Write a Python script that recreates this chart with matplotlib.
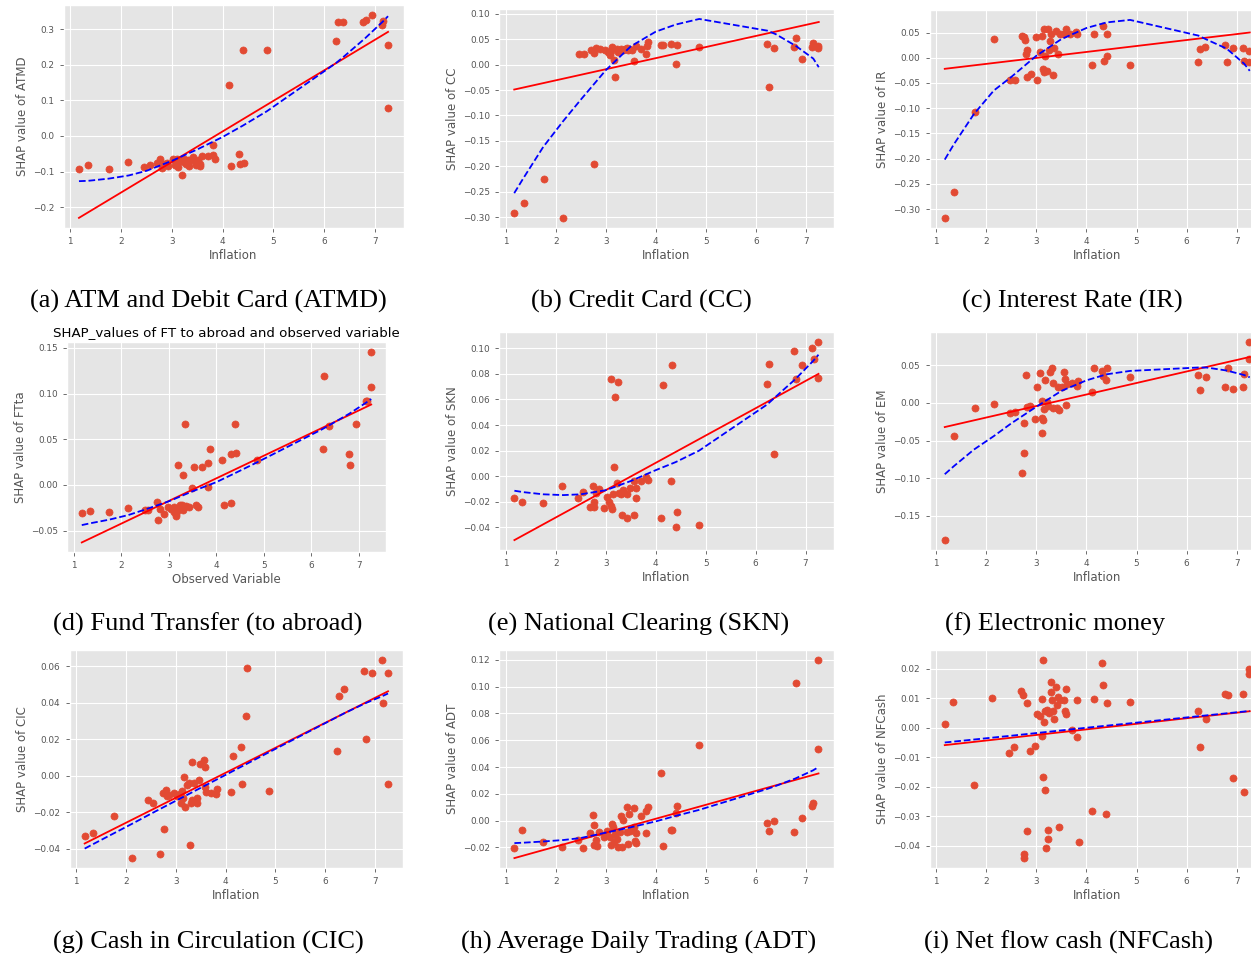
import numpy as np
import matplotlib
matplotlib.use('Agg')
import matplotlib.pyplot as plt
from matplotlib.ticker import MultipleLocator

plt.style.use('ggplot')

# inflation (x) against SHAP value (y) for every payment variable
x_atmd = [1.18, 1.35, 1.76, 2.14, 2.46, 2.57, 2.70, 2.76, 2.80, 2.85, 2.90, 2.93, 3.02, 3.07, 3.10, 3.12, 3.16, 3.20,
          3.23, 3.24, 3.28, 3.31, 3.33, 3.36, 3.41, 3.46, 3.48, 3.52, 3.55, 3.56, 3.59, 3.72, 3.82, 3.82, 3.86, 4.12,
          4.16, 4.32, 4.34, 4.40, 4.43, 4.88, 6.23, 6.28, 6.38, 6.77, 6.82, 6.94, 7.14, 7.16, 7.25, 7.25]
y_atmd = [-0.092, -0.081, -0.092, -0.072, -0.088, -0.081, -0.075, -0.064, -0.089, -0.078, -0.076, -0.084, -0.065,
          -0.081, -0.064, -0.087, -0.071, -0.109, -0.074, -0.064, -0.078, -0.068, -0.084, -0.067, -0.059, -0.071,
          -0.081, -0.068, -0.084, -0.078, -0.057, -0.057, -0.054, -0.026, -0.064, 0.143, -0.084, -0.052, -0.078,
          0.241, -0.076, 0.241, 0.267, 0.319, 0.321, 0.319, 0.324, 0.339, 0.310, 0.322, 0.256, 0.077]

x_cc = [1.17, 1.36, 1.77, 2.15, 2.77, 2.47, 2.57, 2.71, 2.76, 2.80, 2.88, 2.98, 3.04, 3.08, 3.13, 3.16, 3.19, 3.22,
        3.25, 3.30, 3.35, 3.42, 3.47, 3.52, 3.56, 3.60, 3.71, 3.80, 3.83, 3.85, 4.10, 4.15, 4.31, 4.40, 4.42, 4.87,
        6.23, 6.27, 6.37, 6.76, 6.81, 6.93, 7.13, 7.15, 7.25, 7.25, 3.10, 3.27, 3.38, 3.44]
y_cc = [-0.293, -0.272, -0.226, -0.302, -0.195, 0.021, 0.021, 0.028, 0.023, 0.032, 0.030, 0.028, 0.025, 0.020,
        0.035, 0.010, -0.024, 0.030, 0.024, 0.031, 0.028, 0.033, 0.030, 0.028, 0.007, 0.036, 0.031, 0.021, 0.036,
        0.044, 0.038, 0.038, 0.040, 0.001, 0.038, 0.035, 0.041, -0.043, 0.033, 0.035, 0.053, 0.011, 0.035, 0.043,
        0.036, 0.032, 0.027, 0.027, 0.030, 0.028]

x_ir = [1.17, 1.36, 1.78, 2.16, 2.47, 2.57, 2.71, 2.76, 2.77, 2.79, 2.81, 2.81, 2.90, 2.99, 3.01, 3.08, 3.11, 3.13,
        3.15, 3.16, 3.18, 3.21, 3.23, 3.25, 3.28, 3.30, 3.33, 3.35, 3.40, 3.43, 3.48, 3.56, 3.59, 3.68, 3.80, 3.82,
        4.12, 4.16, 4.32, 4.34, 4.40, 4.41, 4.87, 6.23, 6.27, 6.37, 6.77, 6.81, 6.93, 7.13, 7.14, 7.25, 7.25]
y_ir = [-0.318, -0.267, -0.108, 0.037, -0.044, -0.044, 0.043, 0.041, 0.035, 0.007, 0.015, -0.039, -0.032, 0.041,
        -0.044, 0.012, 0.043, -0.022, -0.029, 0.057, 0.004, -0.026, 0.057, 0.015, 0.034, 0.047, -0.034, 0.020,
        0.053, 0.007, 0.047, 0.047, 0.057, 0.047, 0.052, 0.047, -0.014, 0.047, 0.063, -0.006, 0.003, 0.047,
        -0.014, -0.009, 0.017, 0.022, 0.025, -0.009, 0.019, 0.019, -0.006, 0.014, -0.009]

x_ftta = [1.17, 1.34, 1.75, 2.14, 2.49, 2.57, 2.75, 2.78, 2.82, 2.89, 2.98, 3.05, 3.12, 3.15, 3.19, 3.20, 3.24, 3.29,
          3.31, 3.34, 3.37, 3.43, 3.48, 3.54, 3.58, 3.61, 3.71, 3.82, 3.83, 3.87, 4.12, 4.17, 4.32, 4.32, 4.40, 4.42,
          4.86, 6.24, 6.27, 6.38, 6.79, 6.82, 6.94, 7.15, 7.18, 7.26, 7.26, 3.10, 3.22, 3.27, 3.16]
y_ftta = [-0.031, -0.029, -0.030, -0.025, -0.028, -0.028, -0.019, -0.038, -0.026, -0.032, -0.024, -0.026, -0.024,
          -0.032, -0.027, 0.022, -0.022, 0.011, -0.028, 0.067, -0.023, -0.024, -0.003, 0.020, -0.022, -0.024, 0.020,
          0.024, -0.002, 0.039, 0.027, -0.022, -0.020, 0.034, 0.067, 0.035, 0.027, 0.039, 0.119, 0.064, 0.034,
          0.022, 0.067, 0.092, 0.092, 0.146, 0.107, -0.030, -0.025, -0.022, -0.034]

x_skn = [1.17, 1.33, 1.75, 2.13, 2.45, 2.55, 2.69, 2.75, 2.77, 2.77, 2.80, 2.87, 2.97, 3.02, 3.07, 3.11, 3.11, 3.13,
         3.15, 3.17, 3.19, 3.22, 3.25, 3.27, 3.30, 3.32, 3.35, 3.42, 3.43, 3.49, 3.57, 3.57, 3.60, 3.60, 3.71, 3.81,
         3.85, 4.11, 4.15, 4.31, 4.33, 4.40, 4.42, 4.87, 6.23, 6.27, 6.37, 6.77, 6.81, 6.93, 7.13, 7.16, 7.25, 7.25]
y_skn = [-0.017, -0.020, -0.021, -0.008, -0.017, -0.012, -0.024, -0.008, -0.020, -0.024, -0.013, -0.010, -0.025,
         -0.016, -0.020, 0.076, -0.023, -0.026, -0.014, 0.007, 0.062, -0.005, 0.074, -0.013, -0.014, -0.030, -0.011,
         -0.014, -0.033, -0.009, -0.004, -0.030, -0.017, -0.009, -0.004, -0.0005, -0.003, -0.033, 0.071, -0.004,
         0.087, -0.040, -0.028, -0.038, 0.072, 0.088, 0.017, 0.098, 0.076, 0.087, 0.100, 0.092, 0.105, 0.077]

x_em = [1.17, 1.35, 1.77, 2.15, 2.48, 2.58, 2.71, 2.76, 2.76, 2.79, 2.81, 2.88, 2.98, 3.01, 3.08, 3.11, 3.11, 3.12,
        3.14, 3.16, 3.18, 3.21, 3.24, 3.28, 3.31, 3.33, 3.34, 3.41, 3.43, 3.46, 3.51, 3.55, 3.57, 3.59, 3.61, 3.71,
        3.81, 3.84, 4.12, 4.15, 4.31, 4.33, 4.39, 4.41, 4.87, 6.23, 6.27, 6.38, 6.77, 6.82, 6.93, 7.13, 7.15, 7.25,
        7.25]
y_em = [-0.182, -0.044, -0.007, -0.001, -0.014, -0.012, -0.093, -0.067, -0.026, 0.037, -0.006, -0.004, -0.021,
        0.021, 0.040, 0.002, -0.040, -0.020, -0.023, -0.008, 0.030, 0.001, -0.004, 0.041, 0.047, 0.027, -0.007,
        -0.007, 0.021, -0.009, 0.021, 0.041, 0.032, -0.003, 0.025, 0.026, 0.023, 0.029, 0.015, 0.047, 0.043, 0.036,
        0.030, 0.047, 0.034, 0.037, 0.017, 0.034, 0.021, 0.046, 0.019, 0.021, 0.039, 0.081, 0.058]

x_cic = [1.17, 1.33, 1.75, 2.13, 2.45, 2.55, 2.68, 2.75, 2.76, 2.80, 2.82, 2.86, 2.96, 3.02, 3.08, 3.11, 3.12, 3.15,
         3.17, 3.19, 3.23, 3.26, 3.28, 3.30, 3.32, 3.33, 3.37, 3.42, 3.43, 3.47, 3.49, 3.57, 3.58, 3.59, 3.60, 3.70,
         3.81, 3.83, 4.11, 4.15, 4.31, 4.33, 4.40, 4.42, 4.87, 6.24, 6.28, 6.38, 6.78, 6.82, 6.94, 7.14, 7.16, 7.26,
         7.26]
y_cic = [-0.033, -0.031, -0.022, -0.045, -0.013, -0.015, -0.043, -0.0095, -0.029, -0.0077, -0.011, -0.0104, -0.0095,
         -0.011, -0.010, -0.015, -0.0082, -0.012, -0.0004, -0.0168, -0.005, -0.004, -0.038, -0.015, -0.013, 0.0074,
         -0.004, -0.012, -0.015, -0.002, 0.0068, 0.009, 0.005, -0.006, -0.0086, -0.0095, -0.010, -0.0073, -0.0086,
         0.011, 0.0159, -0.0046, 0.033, 0.059, -0.0081, 0.0139, 0.0438, 0.0477, 0.0576, 0.0203, 0.0567, 0.0636,
         0.040, 0.0564, -0.0042]

x_adt = [1.17, 1.33, 1.75, 2.13, 2.45, 2.55, 2.69, 2.75, 2.77, 2.77, 2.80, 2.82, 2.87, 2.97, 3.02, 3.09, 3.11, 3.13,
         3.15, 3.17, 3.19, 3.22, 3.25, 3.29, 3.30, 3.32, 3.34, 3.42, 3.43, 3.44, 3.47, 3.49, 3.57, 3.57, 3.59, 3.60,
         3.60, 3.71, 3.81, 3.81, 3.85, 4.11, 4.15, 4.31, 4.33, 4.40, 4.42, 4.87, 6.23, 6.27, 6.37, 6.77, 6.81, 6.93,
         7.13, 7.15, 7.25, 7.25]
y_adt = [-0.0205, -0.0068, -0.0163, -0.0195, -0.0145, -0.0205, -0.0096, 0.0044, -0.0031, -0.018, -0.0145, -0.0188,
         -0.0083, -0.0126, -0.0076, -0.0126, -0.018, -0.0026, -0.005, -0.0163, -0.0101, -0.0138, -0.0195, -0.0088,
         0.0036, -0.020, 0.0004, -0.0088, 0.0103, -0.0175, 0.0053, -0.0076, 0.0093, -0.005, -0.015, -0.0093, -0.017,
         0.0036, 0.0073, -0.0096, 0.0103, 0.0359, -0.0188, -0.0068, -0.0068, 0.0056, 0.0111, 0.0566, -0.0021,
         -0.0081, -0.0001, -0.0088, 0.1026, 0.0016, 0.0106, 0.0128, 0.120, 0.0538]

x_nfcash = [1.17, 1.33, 1.75, 2.12, 2.46, 2.56, 2.70, 2.74, 2.76, 2.76, 2.81, 2.81, 2.88, 2.98, 3.01, 3.08, 3.11, 3.11,
            3.13, 3.13, 3.15, 3.17, 3.18, 3.20, 3.22, 3.23, 3.24, 3.26, 3.29, 3.30, 3.31, 3.33, 3.36, 3.40, 3.41,
            3.44, 3.46, 3.48, 3.56, 3.57, 3.59, 3.60, 3.71, 3.81, 3.81, 3.85, 4.11, 4.15, 4.31, 4.33, 4.39, 4.41,
            4.87, 6.23, 6.27, 6.38, 6.77, 6.82, 6.93, 7.13, 7.15, 7.25, 7.25]
y_nfcash = [0.0011, 0.0087, -0.0194, 0.0102, -0.0085, -0.0065, 0.0123, 0.011, -0.0427, -0.0442, 0.0084, -0.0349,
            -0.0078, -0.0062, 0.0045, 0.004, 0.0099, -0.0027, 0.023, -0.0166, 0.002, -0.0211, 0.0057, -0.0408, 0.0059,
            -0.0376, -0.0346, 0.005, 0.0121, 0.0155, 0.0095, 0.0056, 0.0031, 0.0138, 0.0076, 0.0104, -0.0338, 0.0095,
            0.0093, 0.0056, 0.0132, 0.0046, -0.0006, -0.0031, 0.0093, -0.0388, -0.0282, 0.0099, 0.022, 0.0146,
            -0.0292, 0.0084, 0.0087, 0.0057, -0.0065, 0.0028, 0.0116, 0.0112, -0.0169, 0.0116, -0.0217, 0.020, 0.0183]

# linear trend (red) at the ends of the inflation range
lin_x = [1.17, 7.26]
lin_atmd = [-0.230, 0.292]
lin_cc = [-0.049, 0.084]
lin_ir = [-0.022, 0.050]
lin_ftta = [-0.063, 0.088]
lin_skn = [-0.050, 0.080]
lin_em = [-0.032, 0.061]
lin_cic = [-0.037, 0.0464]
lin_adt = [-0.028, 0.0352]
lin_nfcash = [-0.0059, 0.0056]

# polynomial trend (blue dashed) sampled at the observed inflation values
poly_x = [1.17, 1.35, 1.75, 2.15, 2.5, 3.0, 3.5, 4.0, 4.4, 4.87, 6.23, 6.4, 6.8, 7.15, 7.26]
poly_atmd = [-0.127, -0.126, -0.120, -0.111, -0.098, -0.070, -0.038, -0.003, 0.029, 0.069, 0.204, 0.224, 0.273,
             0.320, 0.336]
poly_cc = [-0.253, -0.224, -0.162, -0.111, -0.069, -0.011, 0.036, 0.065, 0.079, 0.090, 0.067, 0.060, 0.037, 0.012,
           -0.005]
poly_ir = [-0.202, -0.172, -0.112, -0.065, -0.038, 0.004, 0.037, 0.059, 0.070, 0.075, 0.044, 0.036, 0.018, -0.012,
           -0.026]
poly_ftta = [-0.044, -0.042, -0.038, -0.033, -0.027, -0.018, -0.007, 0.003, 0.013, 0.025, 0.061, 0.066, 0.078,
             0.090, 0.094]
poly_skn = [-0.0114, -0.0125, -0.0142, -0.0148, -0.0142, -0.0110, -0.0038, 0.0047, 0.0110, 0.0200, 0.0560, 0.0620,
            0.0760, 0.0900, 0.0950]
poly_em = [-0.0946, -0.084, -0.062, -0.044, -0.027, -0.005, 0.016, 0.030, 0.038, 0.0425, 0.047, 0.047, 0.043, 0.037,
           0.034]
poly_cic = [-0.0398, -0.0372, -0.0315, -0.0258, -0.0207, -0.0136, -0.0065, 0.0006, 0.0063, 0.0130, 0.0322, 0.0346,
            0.0398, 0.0438, 0.0452]
poly_adt = [-0.0168, -0.0165, -0.0156, -0.0145, -0.0130, -0.0090, -0.0050, -0.0006, 0.0035, 0.0080, 0.0236, 0.0258,
            0.0315, 0.0375, 0.0400]
poly_nfcash = [-0.0050, -0.0047, -0.0040, -0.0033, -0.0027, -0.0018, -0.0009, 0.0000, 0.0007, 0.0015, 0.0039, 0.0042,
               0.0049, 0.0055, 0.0057]

W, H = 1251, 960
fig = plt.figure(figsize=(W / 100, H / 100), dpi=100)


def place(x0, y0, x1, y1):
    # pixel box (left, top, right, bottom) -> figure fraction
    return [x0 / W, 1 - y1 / H, (x1 - x0) / W, (y1 - y0) / H]


panels = [
    (place(63.5, 5, 403.5, 228), x_atmd, y_atmd, lin_atmd, poly_atmd, 'ATMD', 'Inflation', 0.1,
     '(a) ATM and Debit Card (ATMD)', 208, 300),
    (place(499, 9, 834, 228), x_cc, y_cc, lin_cc, poly_cc, 'CC', 'Inflation', 0.05,
     '(b) Credit Card (CC)', 641, 300),
    (place(929.5, 10, 1265, 228), x_ir, y_ir, lin_ir, poly_ir, 'IR', 'Inflation', 0.05,
     '(c) Interest Rate (IR)', 1072, 300),
    (place(67.3, 342, 385.7, 552), x_ftta, y_ftta, lin_ftta, poly_ftta, 'FTta', 'Observed Variable', 0.05,
     '(d) Fund Transfer (to abroad)', 208, 623),
    (place(499.2, 332, 833.7, 550), x_skn, y_skn, lin_skn, poly_skn, 'SKN', 'Inflation', 0.02,
     '(e) National Clearing (SKN)', 639, 623),
    (place(929.5, 332, 1265, 550), x_em, y_em, lin_em, poly_em, 'EM', 'Inflation', 0.05,
     '(f) Electronic money', 1055, 623),
    (place(69.5, 650, 403.2, 868), x_cic, y_cic, lin_cic, poly_cic, 'CIC', 'Inflation', 0.02,
     '(g) Cash in Circulation (CIC)', 208, 941),
    (place(499.2, 650, 833.7, 868), x_adt, y_adt, lin_adt, poly_adt, 'ADT', 'Inflation', 0.02,
     '(h) Average Daily Trading (ADT)', 639, 941),
    (place(929.5, 650, 1265, 868), x_nfcash, y_nfcash, lin_nfcash, poly_nfcash, 'NFCash', 'Inflation', 0.01,
     '(i) Net flow cash (NFCash)', 1068, 941),
]

for box, xs, ys, lin, poly, name, xlab, ystep, cap, cx, cy in panels:
    ax = fig.add_axes(box)
    ax.scatter(xs, ys, s=26, color='#E24A33', zorder=2)
    ax.plot(lin_x, lin, color='red', linewidth=1.3, zorder=3)
    ax.plot(poly_x, poly, 'b--', linewidth=1.3, zorder=3)
    ax.xaxis.set_major_locator(MultipleLocator(1))
    ax.yaxis.set_major_locator(MultipleLocator(ystep))
    ax.tick_params(labelsize=6.4, length=3, width=0.6)
    ax.set_xlabel(xlab, fontsize=8.5, labelpad=2)
    ax.set_ylabel('SHAP value of ' + name, fontsize=8.5, labelpad=3)
    if name == 'FTta':
        ax.set_title('SHAP_values of FT to abroad and observed variable', fontsize=9.6, pad=4)
    fig.text(cx / W, 1 - (cy + 1) / H, cap, ha='center', va='center',
             family='Liberation Serif', fontsize=19, color='black')

fig.savefig('out.png', dpi=100)
